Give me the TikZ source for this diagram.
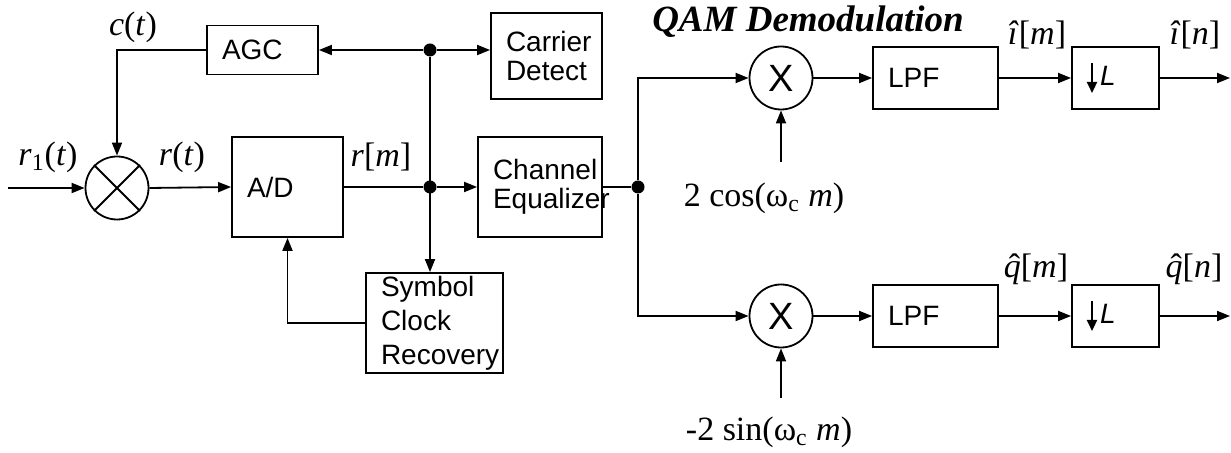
\documentclass[tikz,border=0pt]{standalone}
\usepackage{fontspec}
\setmainfont{Liberation Serif}
\setsansfont{Liberation Sans}
\usetikzlibrary{positioning,arrows.meta}

\newcommand{\qhat}{\ooalign{\textit{q}\cr\hidewidth\kern0.12em\char"02C6\hidewidth\cr}}
\newcommand{\downL}{\tikz[baseline=0pt]\draw[-{Triangle[length=5.5pt,width=5pt]}, line width=1.1pt] (0pt,11.5pt) -- (0pt,-3.5pt);\kern1.5pt\textit{L}}

\begin{document}
\begin{tikzpicture}[
    x=0.5pt, y=-0.5pt,
    >={Triangle[length=6.5pt,width=5pt]},
    blk/.style={
        draw,
        line width=0.9pt,
        align=left,
        inner xsep=7.5pt,
        inner ysep=0pt,
        font=\sffamily\fontsize{14}{14.5}\selectfont
    },
    mult/.style={
        draw,
        circle,
        line width=0.9pt,
        minimum size=31.5pt,
        inner sep=0pt,
        font=\sffamily\fontsize{19}{19}\selectfont
    },
    sig/.style={
        inner sep=0pt,
        font=\rmfamily\fontsize{17}{17}\selectfont
    },
    dot/.style={
        circle,
        fill,
        inner sep=0pt,
        minimum size=6.5pt
    }
]
\useasboundingbox (0,0) rectangle (1231,453);

% Front end: gain control and sampling
\coordinate (rin) at (8,188);
\node[mult] (mixA) at (117,188) {};
\draw[line width=0.9pt] (mixA.north west) -- (mixA.south east)
                        (mixA.north east) -- (mixA.south west);
\node[blk, text width=40.5pt, minimum height=24.5pt] (agc) at (262.5,50) {AGC};
\node[blk, text width=40.5pt, minimum height=50pt] (ad) at (287.5,187) {A/D};
\node[blk, text width=40.5pt, minimum height=43pt] (carrier) at (546.5,56) {Carrier\\Detect};
\node[blk, text width=47pt, minimum height=50pt] (equal) at (540,187) {Channel\\Equalizer};
\node[blk, text width=53.5pt, minimum height=50pt,
      font=\sffamily\fontsize{14}{17}\selectfont] (symclk) at (434.5,323) {Symbol\\Clock\\Recovery};

\node[dot] (jtop) at (430,50) {};
\node[dot] (jmain) at (430,187) {};
\node[dot] (jeq) at (638,187) {};

% Signal labels
\node[sig] (r1lbl) at (48,157) {\textit{r}\textsubscript{1}(\textit{t})};
\node[sig] (clbl) at (133,27) {\textit{c}(\textit{t})};
\node[sig] (rtlbl) at (182,157) {\textit{r}(\textit{t})};
\node[sig] (rmlbl) at (381,157) {\textit{r}[\textit{m}]};

% QAM demodulation branches
\node[sig, font=\rmfamily\fontsize{18.5}{18.5}\selectfont] (qam) at (808,22) {\textbf{\textit{QAM Demodulation}}};
\node[mult] (mixI) at (781,78) {X};
\node[blk, text width=47.5pt, minimum height=31pt] (lpfI) at (935.5,78) {LPF};
\node[blk, text width=28.5pt, minimum height=31pt] (decI) at (1115.5,78) {\downL};
\coordinate (outI) at (1230,78);
\coordinate (cosin) at (781,162);
\node[sig] (coslbl) at (764,198) {2 cos(ω\textsubscript{c} \textit{m})};
\node[sig] (imlbl) at (1037,35) {\textit{î}[\textit{m}]};
\node[sig] (inlbl) at (1195,35) {\textit{î}[\textit{n}]};

\node[mult] (mixQ) at (781,316) {X};
\node[blk, text width=47.5pt, minimum height=31pt] (lpfQ) at (935.5,316) {LPF};
\node[blk, text width=28.5pt, minimum height=31pt] (decQ) at (1115.5,316) {\downL};
\coordinate (outQ) at (1230,316);
\coordinate (sinin) at (781,398);
\node[sig] (sinlbl) at (769,432) {-2 sin(ω\textsubscript{c} \textit{m})};
\node[sig] (qmlbl) at (1036,268) {\qhat[\textit{m}]};
\node[sig] (qnlbl) at (1194,268) {\qhat[\textit{n}]};

% Connections
\draw[->, line width=0.9pt] (rin) -- (mixA.west);
\draw[->, line width=0.9pt] (agc.west) -| (mixA.north);
\draw[->, line width=0.9pt] (mixA.east) -- (ad.west);
\draw[line width=0.9pt] (ad.east) -- (jmain);
\draw[->, line width=0.9pt] (jmain) -- (equal.west);
\draw[->, line width=0.9pt] (jtop) -- (agc.east);
\draw[->, line width=0.9pt] (jtop) -- (carrier.west |- jtop);
\draw[->, line width=0.9pt] (jtop) -- (jtop |- symclk.north);
\draw[->, line width=0.9pt] (symclk.west) -| (ad.south);
\draw[line width=0.9pt] (equal.east) -- (jeq);

\draw[->, line width=0.9pt] (jeq) |- (mixI.west);
\draw[->, line width=0.9pt] (mixI.east) -- (lpfI.west);
\draw[->, line width=0.9pt] (lpfI.east) -- (decI.west);
\draw[->, line width=0.9pt] (decI.east) -- (outI);
\draw[->, line width=0.9pt] (cosin) -- (mixI.south);

\draw[->, line width=0.9pt] (jeq) |- (mixQ.west);
\draw[->, line width=0.9pt] (mixQ.east) -- (lpfQ.west);
\draw[->, line width=0.9pt] (lpfQ.east) -- (decQ.west);
\draw[->, line width=0.9pt] (decQ.east) -- (outQ);
\draw[->, line width=0.9pt] (sinin) -- (mixQ.south);

\end{tikzpicture}
\end{document}
